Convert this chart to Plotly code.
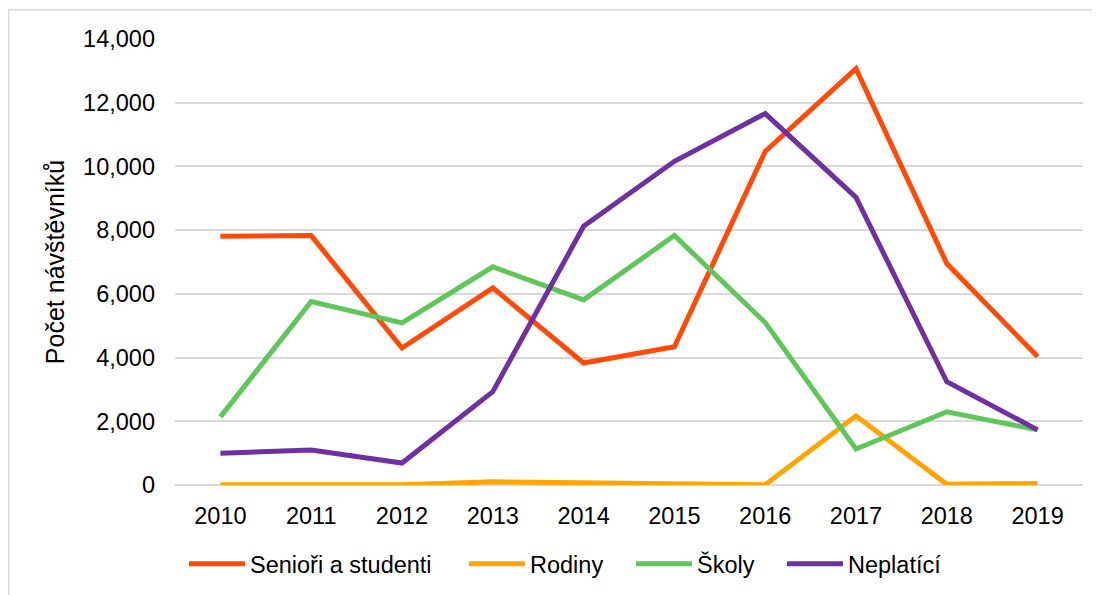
import plotly.graph_objects as go

# data
years = ["2010", "2011", "2012", "2013", "2014", "2015", "2016", "2017", "2018", "2019"]
seniori = [7810, 7830, 4300, 6190, 3830, 4340, 10470, 13070, 6950, 4030]
rodiny = [10, 10, 10, 100, 70, 30, 10, 2170, 20, 50]
skoly = [2140, 5760, 5090, 6850, 5810, 7830, 5100, 1130, 2300, 1730]
neplatici = [1000, 1100, 690, 2930, 8120, 10160, 11660, 9030, 3240, 1730]

series = [
    ("Senioři a studenti", seniori, "#FF4A08"),
    ("Rodiny", rodiny, "#FFA500"),
    ("Školy", skoly, "#5FC75A"),
    ("Neplatící", neplatici, "#7030A0"),
]

FONT = "Liberation Sans, Arial, sans-serif"

# plot area on screen (page body has an 8px margin)
PLOT_L, PLOT_W = 175, 908
legend_px = [184, 464, 631, 782]

fig = go.Figure()
for i, (name, vals, color) in enumerate(series):
    lg = "legend" if i == 0 else f"legend{i + 1}"
    fig.add_trace(
        go.Scatter(
            x=years,
            y=vals,
            name=name,
            mode="lines",
            line=dict(color=color, width=5),
            legend=lg,
        )
    )

# light frame around the chart area
fig.add_shape(
    type="rect",
    xref="paper", yref="paper",
    x0=-0.1831, x1=1.05, y0=-0.3, y1=1.0657,
    line=dict(color="#D9D9D9", width=1.5),
    fillcolor="rgba(0,0,0,0)",
    layer="below",
)

legend_style = dict(
    orientation="h",
    xanchor="left",
    yanchor="middle",
    y=-0.177,
    font=dict(size=23.5, color="#000000"),
    bgcolor="rgba(0,0,0,0)",
    itemwidth=56,
)
layout_legends = {}
for i, px in enumerate(legend_px):
    key = "legend" if i == 0 else f"legend{i + 1}"
    layout_legends[key] = dict(legend_style, x=(px - PLOT_L) / PLOT_W)

fig.update_layout(
    width=1100,
    height=595,
    paper_bgcolor="white",
    plot_bgcolor="white",
    margin=dict(l=167, r=25, t=31, b=118, autoexpand=False),
    font=dict(family=FONT, size=23.5, color="#000000"),
    showlegend=True,
    **layout_legends,
)

fig.update_xaxes(
    type="category",
    range=[-0.5, 9.5],
    showgrid=False,
    showline=False,
    zeroline=False,
    ticks="",
    ticklabelstandoff=14,
    tickfont=dict(size=23.5),
    automargin=False,
)

fig.update_yaxes(
    range=[0, 14000],
    dtick=2000,
    tickformat=",d",
    showgrid=True,
    gridcolor="#D9D9D9",
    gridwidth=1.5,
    zeroline=True,
    zerolinecolor="#D9D9D9",
    zerolinewidth=1.5,
    showline=False,
    ticks="",
    ticklabelstandoff=19,
    tickfont=dict(size=23.5),
    automargin=False,
    title=dict(text="Počet návštěvníků", font=dict(size=25), standoff=11),
)

fig.write_html("out.html")
